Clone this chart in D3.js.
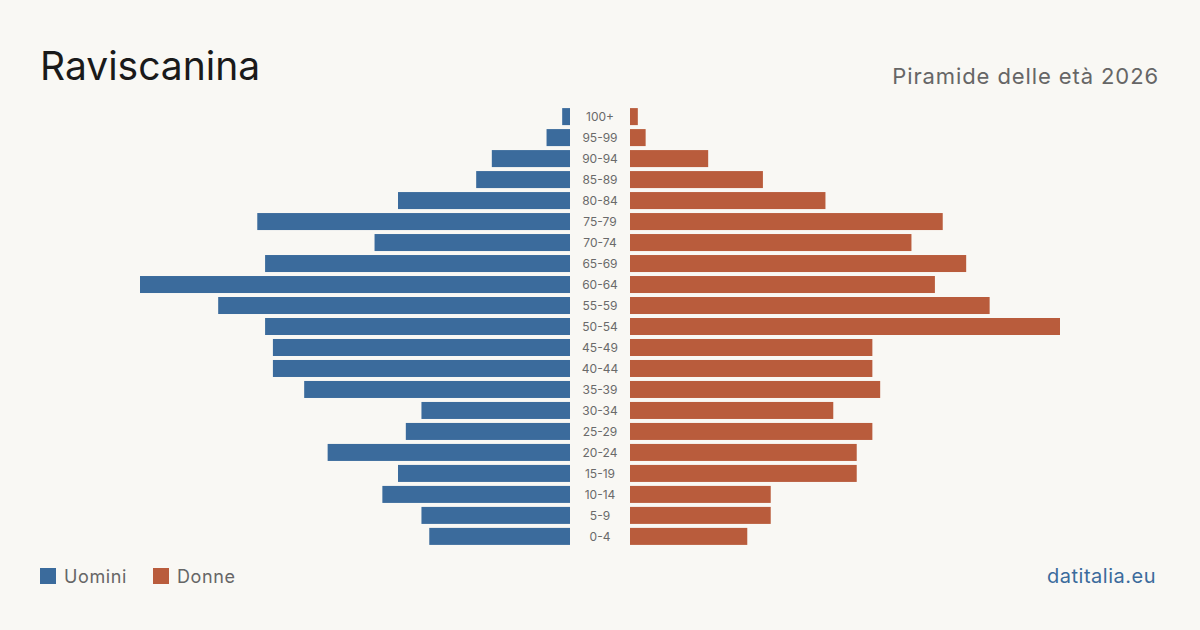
<!DOCTYPE html>
<meta charset="utf-8">
<style>
  body { margin: 0; background: #f9f8f4; }
  svg { display: block; font-family: Inter, "Noto Sans", sans-serif; }
</style>
<body>
<svg width="1200" height="630"></svg>
<script src="https://d3js.org/d3.v7.min.js"></script>
<script>
// age groups, top to bottom
var ages = ["100+","95-99","90-94","85-89","80-84","75-79","70-74","65-69","60-64","55-59",
  "50-54","45-49","40-44","35-39","30-34","25-29","20-24","15-19","10-14","5-9","0-4"]
var uomini = [1,3,10,12,22,40,25,39,55,45,39,38,38,34,19,21,31,22,24,19,18]
var donne  = [1,2,10,17,25,40,36,43,39,46,55,31,31,32,26,31,29,29,18,18,15]

var svg = d3.select('svg')
svg.append('rect').attr('width', 1200).attr('height', 630).attr('fill', '#f9f8f4')

var maxV = d3.max(uomini.concat(donne))
var xLeft = d3.scaleLinear().domain([0, maxV]).range([570, 140])
var xRight = d3.scaleLinear().domain([0, maxV]).range([630, 1060])
var y = d3.scaleBand().domain(ages).range([106, 547]).paddingInner(0.19).paddingOuter(0.1)

svg.append('g').selectAll('rect')
  .data(uomini)
  .enter().append('rect')
    .attr('x', function (d) { return xLeft(d) })
    .attr('y', function (d, i) { return y(ages[i]) })
    .attr('width', function (d) { return xLeft(0) - xLeft(d) })
    .attr('height', y.bandwidth())
    .attr('fill', '#3b6b9c')

svg.append('g').selectAll('rect')
  .data(donne)
  .enter().append('rect')
    .attr('x', xRight(0))
    .attr('y', function (d, i) { return y(ages[i]) })
    .attr('width', function (d) { return xRight(d) - xRight(0) })
    .attr('height', y.bandwidth())
    .attr('fill', '#b95c3c')

svg.append('g').selectAll('text')
  .data(ages)
  .enter().append('text')
    .attr('x', 600)
    .attr('y', function (d) { return y(d) + y.bandwidth() / 2 })
    .attr('dy', '0.35em')
    .attr('text-anchor', 'middle')
    .attr('font-size', 12)
    .attr('fill', '#6a6a6a')
    .text(function (d) { return d })

// titles
svg.append('text').attr('x', 40).attr('y', 80)
  .attr('font-size', 39).attr('fill', '#1a1a1a').text('Raviscanina')
svg.append('text').attr('x', 1159).attr('y', 84).attr('text-anchor', 'end')
  .attr('font-size', 22).attr('letter-spacing', 0.9).attr('fill', '#666').text('Piramide delle età 2026')

// legend
var legend = [{ label: 'Uomini', color: '#3b6b9c', x: 40 }, { label: 'Donne', color: '#b95c3c', x: 153 }]
var lg = svg.append('g').selectAll('g').data(legend).enter().append('g')
lg.append('rect').attr('x', function (d) { return d.x }).attr('y', 568)
  .attr('width', 16).attr('height', 16).attr('fill', function (d) { return d.color })
lg.append('text').attr('x', function (d) { return d.x + 24 }).attr('y', 583)
  .attr('font-size', 18).attr('letter-spacing', 0.6).attr('fill', '#666').text(function (d) { return d.label })

svg.append('text').attr('x', 1156).attr('y', 583).attr('text-anchor', 'end')
  .attr('font-size', 20).attr('letter-spacing', 0.5).attr('fill', '#3b6b9c').text('datitalia.eu')
</script>
</body>
